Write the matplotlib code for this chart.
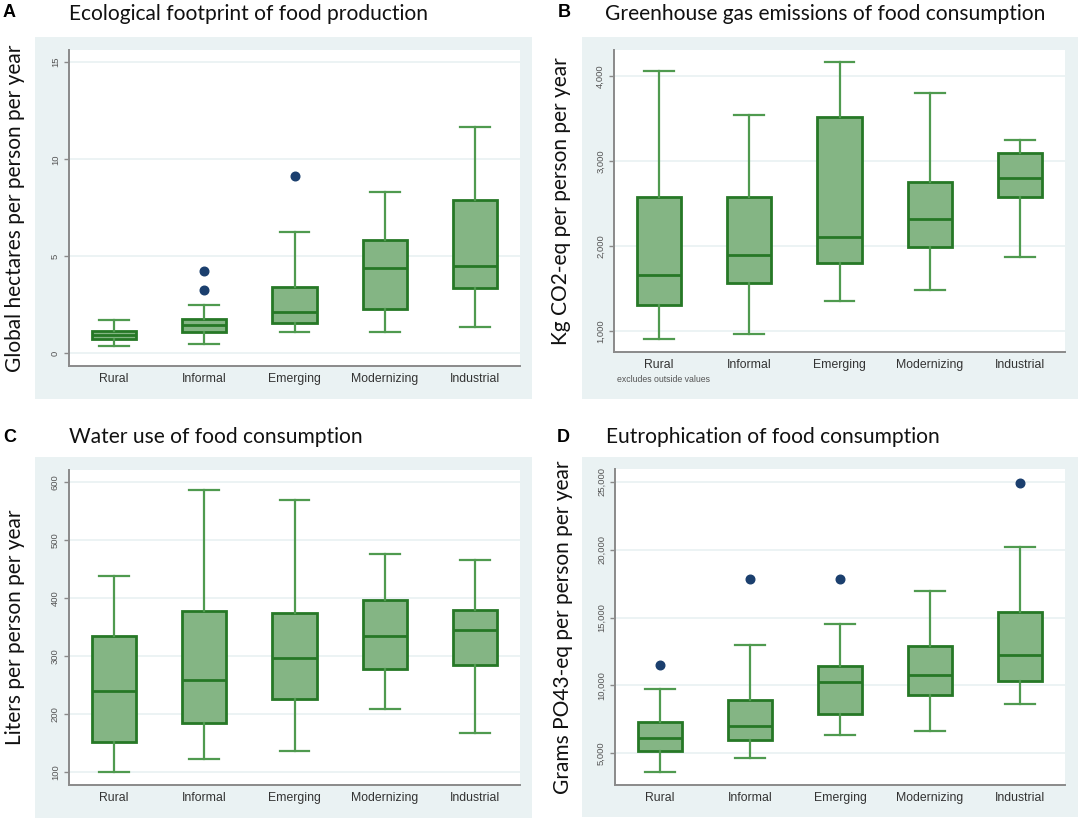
import matplotlib
matplotlib.use("Agg")
import matplotlib.pyplot as plt
from matplotlib.patches import Rectangle
from matplotlib.ticker import FuncFormatter

# ---------------- data ----------------
categories = ["Rural", "Informal", "Emerging", "Modernizing", "Industrial"]

# Panel A: Ecological footprint (global hectares per person per year)
A_lo = [0.39, 0.50, 1.10, 1.08, 1.34]
A_q1 = [0.73, 1.09, 1.55, 2.27, 3.36]
A_med = [0.95, 1.45, 2.13, 4.41, 4.48]
A_q3 = [1.16, 1.76, 3.44, 5.85, 7.92]
A_hi = [1.72, 2.49, 6.25, 8.33, 11.65]
A_out = [[], [3.24, 4.27], [9.12], [], []]
A_ticks = [0, 5, 10, 15]

# Panel B: GHG emissions (kg CO2-eq per person per year)
B_lo = [910, 968, 1356, 1477, 1872]
B_q1 = [1310, 1564, 1798, 1984, 2577]
B_med = [1654, 1889, 2107, 2318, 2795]
B_q3 = [2577, 2569, 3518, 2753, 3091]
B_hi = [4050, 3538, 4156, 3796, 3240]
B_out = [[], [], [], [], []]
B_ticks = [1000, 2000, 3000, 4000]

# Panel C: Water use (liters per person per year)
C_lo = [100.6, 123, 137, 208.5, 167]
C_q1 = [151, 185, 226.5, 278.5, 284]
C_med = [239, 259, 297, 334, 344.5]
C_q3 = [334.5, 377.5, 374.5, 396, 379.5]
C_hi = [439, 586, 569, 477, 466.5]
C_out = [[], [], [], [], []]
C_ticks = [100, 200, 300, 400, 500, 600]

# Panel D: Eutrophication (grams PO43-eq per person per year)
D_lo = [3612, 4644, 6339, 6609, 8600]
D_q1 = [5184, 5971, 7862, 9312, 10295]
D_med = [6143, 7002, 10270, 10762, 12211]
D_q3 = [7297, 8943, 11425, 12875, 15430]
D_hi = [9705, 12973, 14496, 16929, 20221]
D_out = [[11499], [17862], [17862], [], [24914]]
D_ticks = [5000, 10000, 15000, 20000, 25000]

# ---------------- style ----------------
W, H = 1084, 824
BG = "#eaf2f3"
FILL = "#84b584"
EDGE = "#267826"
WHISK = "#4f9a4f"
OUTC = "#1b3f6e"
AXC = "#8a8a8a"
TITLE_FONT = ["Lato", "DejaVu Sans"]
LABEL_FONT = ["Liberation Sans", "DejaVu Sans"]

fig = plt.figure(figsize=(W / 100, H / 100), dpi=100)
fig.patch.set_facecolor("white")


def fx(px):
    return px / W


def fy(py):
    return 1 - py / H


def panel(letter, title, ylabel, lo, q1, med, q3, hi, out, ticks,
          bg, plot, ylim, title_base, letter_xy, ylabel_x, note=None):
    # background region
    bx0, by0, bx1, by1 = bg
    fig.patches.append(Rectangle((fx(bx0), fy(by1)), fx(bx1) - fx(bx0),
                                 (by1 - by0) / H, transform=fig.transFigure,
                                 facecolor=BG, edgecolor="none", zorder=-5))
    px0, py0, px1, py1 = plot
    ax = fig.add_axes([fx(px0), fy(py1), fx(px1) - fx(px0), (py1 - py0) / H])
    ax.set_zorder(2)
    ax.set_facecolor("white")
    stats = []
    for i in range(len(categories)):
        stats.append(dict(med=med[i], q1=q1[i], q3=q3[i], whislo=lo[i],
                          whishi=hi[i], fliers=out[i], label=categories[i]))
    ax.bxp(stats, positions=range(1, 6), widths=0.49, patch_artist=True,
           showfliers=True,
           boxprops=dict(facecolor=FILL, edgecolor=EDGE, linewidth=2.0),
           medianprops=dict(color=EDGE, linewidth=2.0),
           whiskerprops=dict(color=WHISK, linewidth=1.6),
           capprops=dict(color=WHISK, linewidth=1.6),
           capwidths=0.33,
           flierprops=dict(marker="o", markersize=6.2, markerfacecolor=OUTC,
                           markeredgecolor=OUTC))
    ax.set_xlim(0.5, 5.5)
    ax.set_ylim(*ylim)
    ax.set_yticks(ticks)
    ax.yaxis.set_major_formatter(FuncFormatter(lambda v, p: f"{int(v):,}"))
    ax.grid(axis="y", color=BG, linewidth=1.3)
    ax.set_axisbelow(True)
    for s in ["top", "right"]:
        ax.spines[s].set_visible(False)
    for s in ["left", "bottom"]:
        ax.spines[s].set_color(AXC)
        ax.spines[s].set_linewidth(1.4)
    ax.tick_params(axis="x", length=0, pad=5, labelsize=8.8, labelcolor="#333333")
    ax.tick_params(axis="y", length=3.5, width=1.0, color=AXC, pad=3,
                   labelsize=6.8, labelcolor="#555555", labelrotation=90)
    for t in ax.get_yticklabels():
        t.set_va("center")
        t.set_family(LABEL_FONT)
    for t in ax.get_xticklabels():
        t.set_family(LABEL_FONT)
    # panel letter and title
    fig.text(fx(letter_xy[0]), fy(letter_xy[1]), letter, fontsize=13,
             fontweight="bold", family=LABEL_FONT, ha="center", va="center")
    fig.text(fx(px0 + (0 if letter in "AC" else -9)), fy(title_base), title,
             fontsize=15.1, family=TITLE_FONT, ha="left", va="baseline",
             color="#111111")
    fig.text(fx(ylabel_x), fy((py0 + py1) / 2), ylabel, rotation=90,
             fontsize=15, family=TITLE_FONT, ha="center", va="center",
             color="#111111")
    if note:
        fig.text(fx(px0 + 3), fy(379), note, fontsize=6.3, family=LABEL_FONT,
                 color="#555555", ha="left", va="center")
    return ax


panel("A", "Ecological footprint of food production",
      "Global hectares per person per year",
      A_lo, A_q1, A_med, A_q3, A_hi, A_out, A_ticks,
      bg=(35, 37, 532, 399), plot=(69, 50, 520, 366), ylim=(-0.65, 15.63),
      title_base=20, letter_xy=(9.5, 12.5), ylabel_x=15)

panel("B", "Greenhouse gas emissions of food consumption",
      "Kg CO2-eq per person per year",
      B_lo, B_q1, B_med, B_q3, B_hi, B_out, B_ticks,
      bg=(582, 37, 1078, 399), plot=(614, 50, 1065, 351.7), ylim=(757, 4302),
      title_base=20, letter_xy=(564, 12.5), ylabel_x=561,
      note="excludes outside values")

panel("C", "Water use of food consumption",
      "Liters per person per year",
      C_lo, C_q1, C_med, C_q3, C_hi, C_out, C_ticks,
      bg=(35, 457, 532, 818), plot=(69, 470, 520, 785), ylim=(77.6, 621.2),
      title_base=443, letter_xy=(10, 438), ylabel_x=15)

panel("D", "Eutrophication of food consumption",
      "Grams PO43-eq per person per year",
      D_lo, D_q1, D_med, D_q3, D_hi, D_out, D_ticks,
      bg=(582, 457, 1078, 817), plot=(615, 469, 1065, 785), ylim=(2666, 25935),
      title_base=443, letter_xy=(563.5, 438), ylabel_x=563)

fig.savefig("out.png", dpi=100, facecolor="white")
